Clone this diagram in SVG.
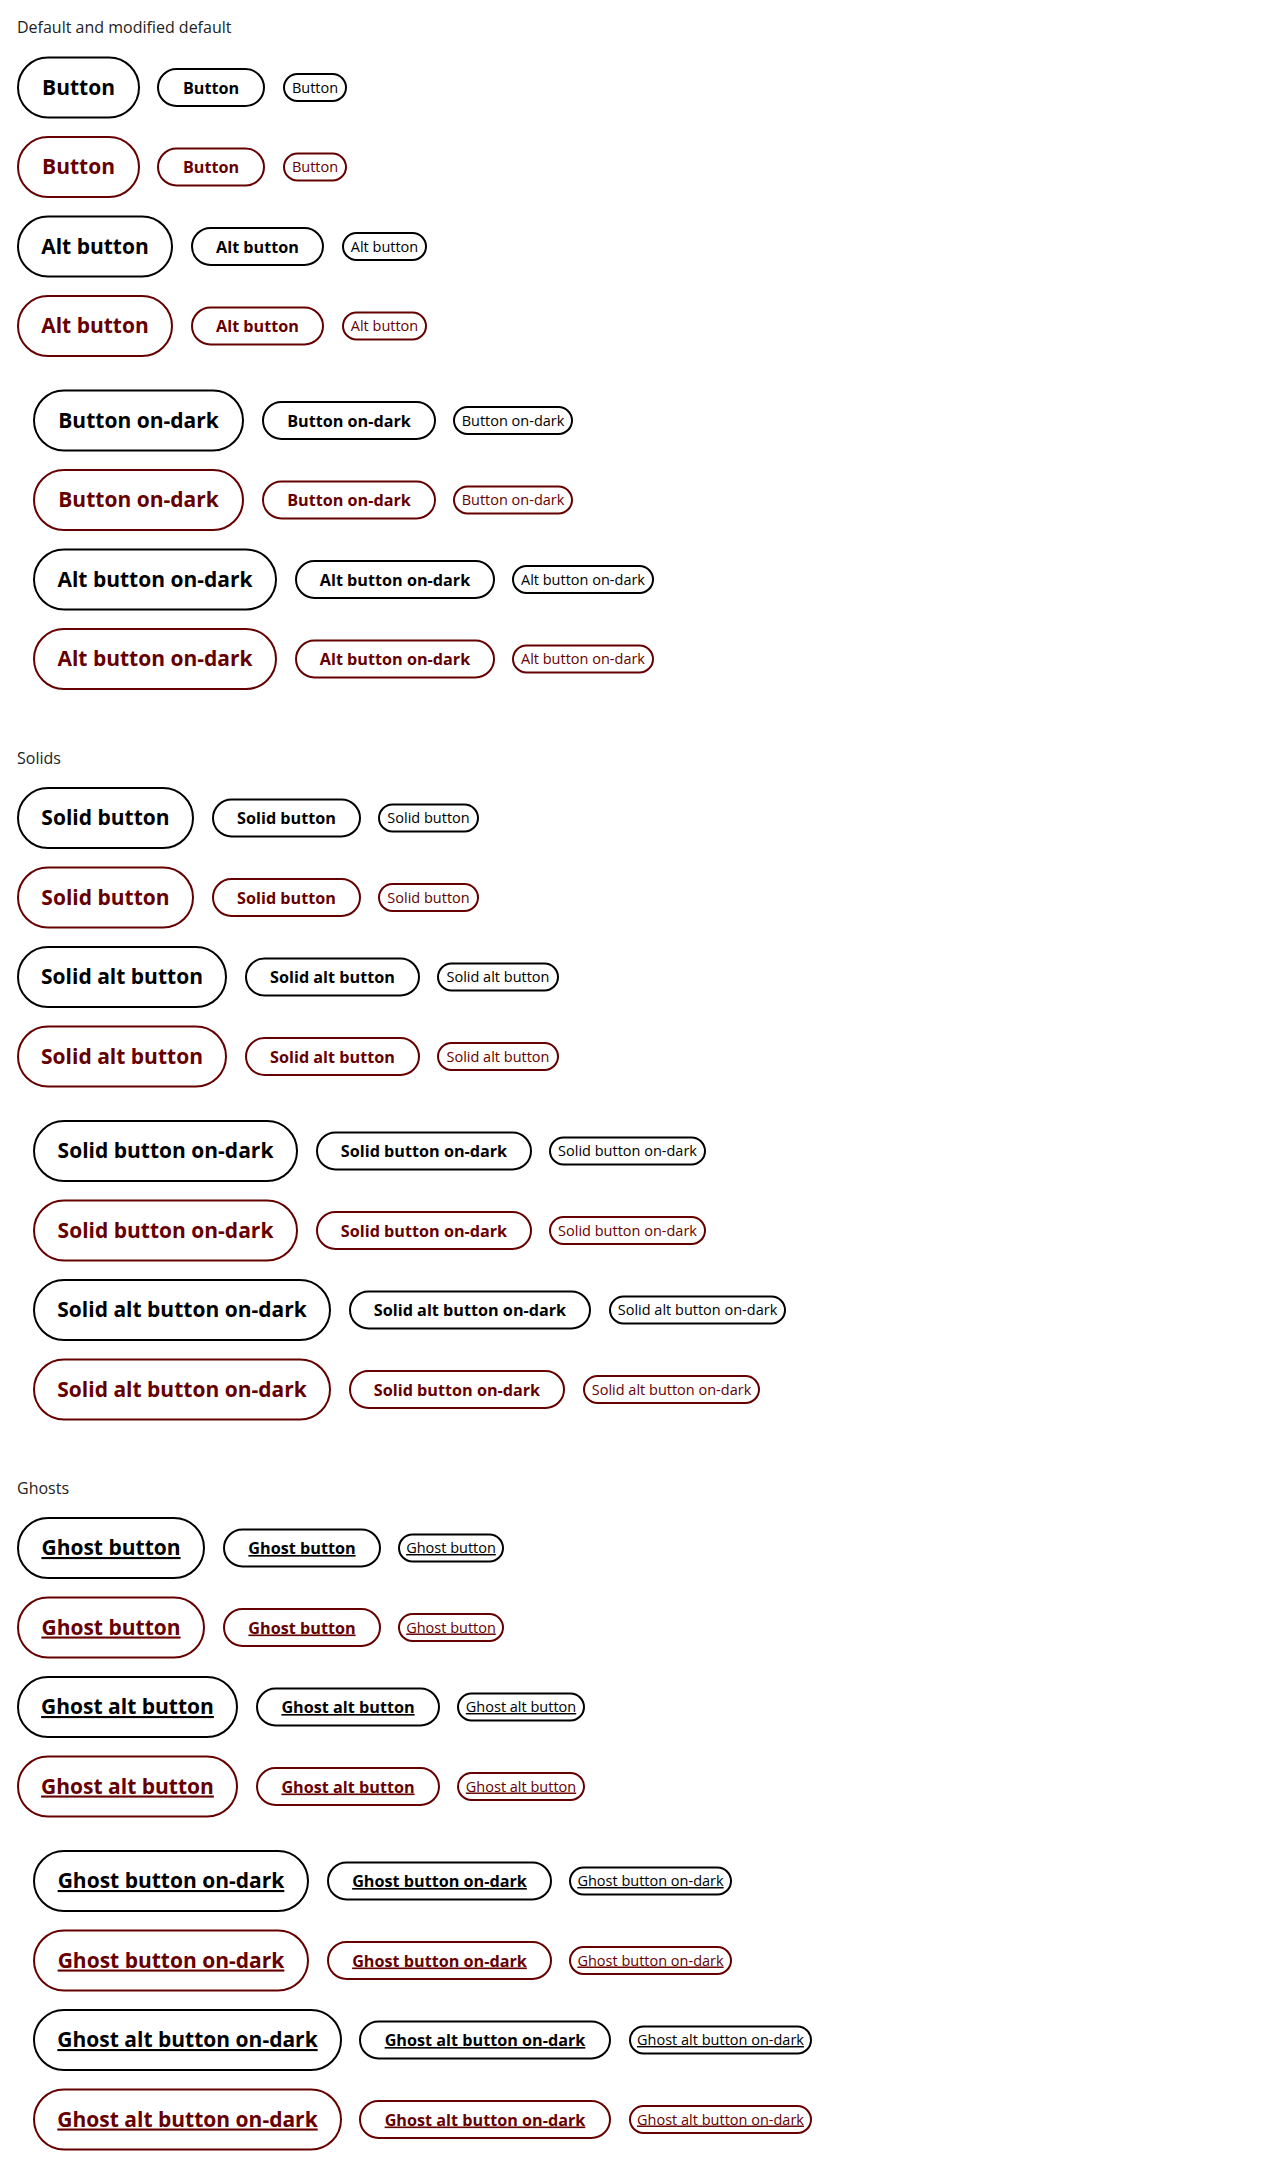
<svg xmlns="http://www.w3.org/2000/svg" width="1280" height="2183" viewBox="0 0 1280 2183">
<style>
  text { font-family: "Open Sans", "Noto Sans", "Liberation Sans", sans-serif; }
  .title { font-size: 16px; fill: #222; }
  rect { fill: none; stroke-width: 2; }
  .k rect { stroke: #000; }
  .k text { fill: #000; }
  .r rect { stroke: #660000; }
  .r text { fill: #660000; }
  .L text { font-size: 21px; font-weight: 700; text-anchor: middle; }
  .M text { font-size: 16.2px; font-weight: 700; text-anchor: middle; }
  .S text { font-size: 14.5px; font-weight: 400; text-anchor: middle; }
  .L rect { rx: 30px; ry: 30px; }
  .M rect { rx: 18.5px; ry: 18.5px; }
  .S rect { rx: 13.5px; ry: 13.5px; }
  .u text { text-decoration: underline; }
</style>
<rect x="0" y="0" width="1280" height="2183" fill="#fff" stroke="none"/>

<g id="section-default">
<text class="title" x="17" y="33">Default and modified default</text>
<g id="d1-l" class="k L"><rect x="18" y="57.5" width="121" height="60"/><text x="78.5" y="94.5">Button</text></g>
<g id="d1-m" class="k M"><rect x="158" y="69" width="106" height="37"/><text x="211" y="93.5">Button</text></g>
<g id="d1-s" class="k S"><rect x="284" y="74" width="62" height="27"/><text x="315" y="92.5">Button</text></g>

<g id="d2-l" class="r L"><rect x="18" y="137" width="121" height="60"/><text x="78.5" y="174">Button</text></g>
<g id="d2-m" class="r M"><rect x="158" y="148.5" width="106" height="37"/><text x="211" y="173">Button</text></g>
<g id="d2-s" class="r S"><rect x="284" y="153.5" width="62" height="27"/><text x="315" y="172">Button</text></g>

<g id="d3-l" class="k L"><rect x="18" y="216.5" width="154" height="60"/><text x="95" y="253.5">Alt button</text></g>
<g id="d3-m" class="k M"><rect x="192" y="228" width="131" height="37"/><text x="257.5" y="252.5">Alt button</text></g>
<g id="d3-s" class="k S"><rect x="343" y="233" width="83" height="27"/><text x="384.5" y="251.5">Alt button</text></g>

<g id="d4-l" class="r L"><rect x="18" y="296" width="154" height="60"/><text x="95" y="333">Alt button</text></g>
<g id="d4-m" class="r M"><rect x="192" y="307.5" width="131" height="37"/><text x="257.5" y="332">Alt button</text></g>
<g id="d4-s" class="r S"><rect x="343" y="312.5" width="83" height="27"/><text x="384.5" y="331">Alt button</text></g>

<g id="d5-l" class="k L"><rect x="34" y="390.5" width="209" height="60"/><text x="138.5" y="427.5">Button on-dark</text></g>
<g id="d5-m" class="k M"><rect x="263" y="402" width="172" height="37"/><text x="349" y="426.5">Button on-dark</text></g>
<g id="d5-s" class="k S"><rect x="454" y="407" width="118" height="27"/><text x="513" y="425.5">Button on-dark</text></g>

<g id="d6-l" class="r L"><rect x="34" y="470" width="209" height="60"/><text x="138.5" y="507">Button on-dark</text></g>
<g id="d6-m" class="r M"><rect x="263" y="481.5" width="172" height="37"/><text x="349" y="506">Button on-dark</text></g>
<g id="d6-s" class="r S"><rect x="454" y="486.5" width="118" height="27"/><text x="513" y="505">Button on-dark</text></g>

<g id="d7-l" class="k L"><rect x="34" y="549.5" width="242" height="60"/><text x="155" y="586.5">Alt button on-dark</text></g>
<g id="d7-m" class="k M"><rect x="296" y="561" width="198" height="37"/><text x="395" y="585.5">Alt button on-dark</text></g>
<g id="d7-s" class="k S"><rect x="513" y="566" width="140" height="27"/><text x="583" y="584.5">Alt button on-dark</text></g>

<g id="d8-l" class="r L"><rect x="34" y="629" width="242" height="60"/><text x="155" y="666">Alt button on-dark</text></g>
<g id="d8-m" class="r M"><rect x="296" y="640.5" width="198" height="37"/><text x="395" y="665">Alt button on-dark</text></g>
<g id="d8-s" class="r S"><rect x="513" y="645.5" width="140" height="27"/><text x="583" y="664">Alt button on-dark</text></g>
</g>

<g id="section-solids">
<text class="title" x="17" y="764">Solids</text>
<g id="s1-l" class="k L"><rect x="18" y="788" width="175" height="60"/><text x="105.5" y="825">Solid button</text></g>
<g id="s1-m" class="k M"><rect x="213" y="799.5" width="147" height="37"/><text x="286.5" y="824">Solid button</text></g>
<g id="s1-s" class="k S"><rect x="379" y="804.5" width="99" height="27"/><text x="428.5" y="823">Solid button</text></g>

<g id="s2-l" class="r L"><rect x="18" y="867.5" width="175" height="60"/><text x="105.5" y="904.5">Solid button</text></g>
<g id="s2-m" class="r M"><rect x="213" y="879" width="147" height="37"/><text x="286.5" y="903.5">Solid button</text></g>
<g id="s2-s" class="r S"><rect x="379" y="884" width="99" height="27"/><text x="428.5" y="902.5">Solid button</text></g>

<g id="s3-l" class="k L"><rect x="18" y="947" width="208" height="60"/><text x="122" y="984">Solid alt button</text></g>
<g id="s3-m" class="k M"><rect x="246" y="958.5" width="173" height="37"/><text x="332.5" y="983">Solid alt button</text></g>
<g id="s3-s" class="k S"><rect x="438" y="963.5" width="120" height="27"/><text x="498" y="982">Solid alt button</text></g>

<g id="s4-l" class="r L"><rect x="18" y="1026.5" width="208" height="60"/><text x="122" y="1063.5">Solid alt button</text></g>
<g id="s4-m" class="r M"><rect x="246" y="1038" width="173" height="37"/><text x="332.5" y="1062.5">Solid alt button</text></g>
<g id="s4-s" class="r S"><rect x="438" y="1043" width="120" height="27"/><text x="498" y="1061.5">Solid alt button</text></g>

<g id="s5-l" class="k L"><rect x="34" y="1121" width="263" height="60"/><text x="165.5" y="1158">Solid button on-dark</text></g>
<g id="s5-m" class="k M"><rect x="317" y="1132.5" width="214" height="37"/><text x="424" y="1157">Solid button on-dark</text></g>
<g id="s5-s" class="k S"><rect x="550" y="1137.5" width="155" height="27"/><text x="627.5" y="1156">Solid button on-dark</text></g>

<g id="s6-l" class="r L"><rect x="34" y="1200.5" width="263" height="60"/><text x="165.5" y="1237.5">Solid button on-dark</text></g>
<g id="s6-m" class="r M"><rect x="317" y="1212" width="214" height="37"/><text x="424" y="1236.5">Solid button on-dark</text></g>
<g id="s6-s" class="r S"><rect x="550" y="1217" width="155" height="27"/><text x="627.5" y="1235.5">Solid button on-dark</text></g>

<g id="s7-l" class="k L"><rect x="34" y="1280" width="296" height="60"/><text x="182" y="1317">Solid alt button on-dark</text></g>
<g id="s7-m" class="k M"><rect x="350" y="1291.5" width="240" height="37"/><text x="470" y="1316">Solid alt button on-dark</text></g>
<g id="s7-s" class="k S"><rect x="610" y="1296.5" width="175" height="27"/><text x="697.5" y="1315">Solid alt button on-dark</text></g>

<g id="s8-l" class="r L"><rect x="34" y="1359.5" width="296" height="60"/><text x="182" y="1396.5">Solid alt button on-dark</text></g>
<g id="s8-m" class="r M"><rect x="350" y="1371" width="214" height="37"/><text x="457" y="1395.5">Solid button on-dark</text></g>
<g id="s8-s" class="r S"><rect x="584" y="1376" width="175" height="27"/><text x="671.5" y="1394.5">Solid alt button on-dark</text></g>
</g>

<g id="section-ghosts">
<text class="title" x="17" y="1494">Ghosts</text>
<g id="g1-l" class="k L u"><rect x="18" y="1518" width="186" height="60"/><text x="111" y="1555">Ghost button</text></g>
<g id="g1-m" class="k M u"><rect x="224" y="1529.5" width="156" height="37"/><text x="302" y="1554">Ghost button</text></g>
<g id="g1-s" class="k S u"><rect x="399" y="1534.5" width="104" height="27"/><text x="451" y="1553">Ghost button</text></g>

<g id="g2-l" class="r L u"><rect x="18" y="1597.5" width="186" height="60"/><text x="111" y="1634.5">Ghost button</text></g>
<g id="g2-m" class="r M u"><rect x="224" y="1609" width="156" height="37"/><text x="302" y="1633.5">Ghost button</text></g>
<g id="g2-s" class="r S u"><rect x="399" y="1614" width="104" height="27"/><text x="451" y="1632.5">Ghost button</text></g>

<g id="g3-l" class="k L u"><rect x="18" y="1677" width="219" height="60"/><text x="127.5" y="1714">Ghost alt button</text></g>
<g id="g3-m" class="k M u"><rect x="257" y="1688.5" width="182" height="37"/><text x="348" y="1713">Ghost alt button</text></g>
<g id="g3-s" class="k S u"><rect x="458" y="1693.5" width="126" height="27"/><text x="521" y="1712">Ghost alt button</text></g>

<g id="g4-l" class="r L u"><rect x="18" y="1756.5" width="219" height="60"/><text x="127.5" y="1793.5">Ghost alt button</text></g>
<g id="g4-m" class="r M u"><rect x="257" y="1768" width="182" height="37"/><text x="348" y="1792.5">Ghost alt button</text></g>
<g id="g4-s" class="r S u"><rect x="458" y="1773" width="126" height="27"/><text x="521" y="1791.5">Ghost alt button</text></g>

<g id="g5-l" class="k L u"><rect x="34" y="1851" width="274" height="60"/><text x="171" y="1888">Ghost button on-dark</text></g>
<g id="g5-m" class="k M u"><rect x="328" y="1862.5" width="223" height="37"/><text x="439.5" y="1887">Ghost button on-dark</text></g>
<g id="g5-s" class="k S u"><rect x="570" y="1867.5" width="161" height="27"/><text x="650.5" y="1886">Ghost button on-dark</text></g>

<g id="g6-l" class="r L u"><rect x="34" y="1930.5" width="274" height="60"/><text x="171" y="1967.5">Ghost button on-dark</text></g>
<g id="g6-m" class="r M u"><rect x="328" y="1942" width="223" height="37"/><text x="439.5" y="1966.5">Ghost button on-dark</text></g>
<g id="g6-s" class="r S u"><rect x="570" y="1947" width="161" height="27"/><text x="650.5" y="1965.5">Ghost button on-dark</text></g>

<g id="g7-l" class="k L u"><rect x="34" y="2010" width="307" height="60"/><text x="187.5" y="2047">Ghost alt button on-dark</text></g>
<g id="g7-m" class="k M u"><rect x="360" y="2021.5" width="250" height="37"/><text x="485" y="2046">Ghost alt button on-dark</text></g>
<g id="g7-s" class="k S u"><rect x="630" y="2026.5" width="181" height="27"/><text x="720.5" y="2045">Ghost alt button on-dark</text></g>

<g id="g8-l" class="r L u"><rect x="34" y="2089.5" width="307" height="60"/><text x="187.5" y="2126.5">Ghost alt button on-dark</text></g>
<g id="g8-m" class="r M u"><rect x="360" y="2101" width="250" height="37"/><text x="485" y="2125.5">Ghost alt button on-dark</text></g>
<g id="g8-s" class="r S u"><rect x="630" y="2106" width="181" height="27"/><text x="720.5" y="2124.5">Ghost alt button on-dark</text></g>
</g>
</svg>
